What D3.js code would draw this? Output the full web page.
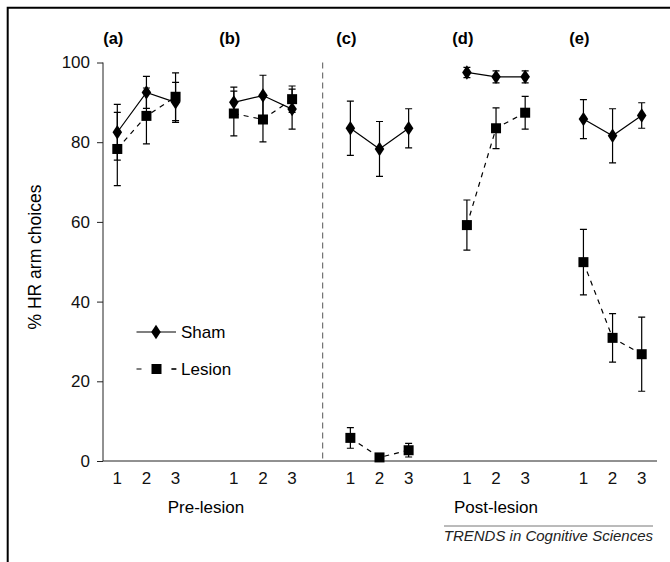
<!DOCTYPE html>
<html lang="en">
<head>
  <meta charset="utf-8">
  <script src="https://d3js.org/d3.v7.min.js"></script>
  <style>
    body { margin: 0; background: #fff; }
    svg { display: block; font-family: Arial, "Liberation Sans", sans-serif; }
    .tick text { font-size: 17px; fill: #111; }
  </style>
</head>
<body>
  <svg id="chart" width="670" height="562"></svg>
  <script>
    // panels and sessions
    var panels = ["(a)", "(b)", "(c)", "(d)", "(e)"];
    var sessions = [1, 2, 3];
    var yTicks = [0, 20, 40, 60, 80, 100];

    // means and error (+/-) per panel, session 1..3
    var shamMean = [
      [82.5, 92.5, 90.0],
      [90.0, 91.7, 88.3],
      [83.5, 78.3, 83.5],
      [97.5, 96.4, 96.4],
      [85.8, 81.6, 86.7]
    ];
    var shamErr = [
      [7.0, 4.0, 5.0],
      [3.8, 5.1, 5.0],
      [6.8, 6.9, 4.9],
      [1.3, 1.5, 1.5],
      [4.9, 6.8, 3.2]
    ];
    var lesionMean = [
      [78.3, 86.6, 91.4],
      [87.2, 85.7, 90.8],
      [5.8, 0.9, 2.7],
      [59.2, 83.5, 87.4],
      [49.9, 30.9, 26.8]
    ];
    var lesionErr = [
      [9.2, 7.0, 6.0],
      [5.6, 5.6, 3.3],
      [2.6, 0.6, 1.7],
      [6.3, 5.1, 4.1],
      [8.2, 6.1, 9.3]
    ];

    var svg = d3.select("#chart");

    // frame
    svg.append("path")
        .attr("d", "M7.7,562 V7.7 H670")
        .attr("fill", "none")
        .attr("stroke", "#000")
        .attr("stroke-width", 2);

    // x position index: panel p, session s -> 4*p + s
    var x = d3.scaleLinear().domain([1, 19]).range([117.3, 641.7]);
    var y = d3.scaleLinear().domain([0, 100]).range([461, 62.5]);
    function px(p, s) { return x(4 * p + s); }

    // y axis
    var yAxis = d3.axisLeft(y).tickValues(yTicks).tickSize(6).tickPadding(7);
    var gy = svg.append("g").attr("transform", "translate(103,0)").call(yAxis);
    gy.select(".domain").attr("stroke", "#222").attr("d", "M0," + y(100) + "V" + y(0));
    gy.selectAll(".tick line").attr("stroke", "#222");

    // x axis line
    svg.append("line")
        .attr("x1", 103).attr("x2", 657)
        .attr("y1", y(0)).attr("y2", y(0))
        .attr("stroke", "#222");

    // pre/post divider
    svg.append("line")
        .attr("x1", x(8.05)).attr("x2", x(8.05))
        .attr("y1", y(100)).attr("y2", y(0))
        .attr("stroke", "#555")
        .attr("stroke-dasharray", "6,4");

    // session labels
    panels.forEach(function(name, p) {
      sessions.forEach(function(s) {
        svg.append("text")
            .attr("x", px(p, s)).attr("y", 484)
            .attr("text-anchor", "middle")
            .attr("font-size", 17).attr("fill", "#111")
            .text(s);
      });
      svg.append("text")
          .attr("x", px(p, 1) - 4).attr("y", 44)
          .attr("text-anchor", "middle")
          .attr("font-size", 16.5).attr("font-weight", "bold")
          .text(name);
    });

    svg.append("text").attr("x", 206).attr("y", 513)
        .attr("text-anchor", "middle").attr("font-size", 17).text("Pre-lesion");
    svg.append("text").attr("x", 496).attr("y", 513)
        .attr("text-anchor", "middle").attr("font-size", 17).text("Post-lesion");

    svg.append("text")
        .attr("transform", "translate(41,257) rotate(-90)")
        .attr("text-anchor", "middle").attr("font-size", 17.5)
        .text("% HR arm choices");

    var diamond = d3.symbol().type(d3.symbolDiamond).size(60);

    function drawSeries(means, errs, dashed, marker) {
      means.forEach(function(row, p) {
        var pts = row.map(function(v, i) { return [px(p, i + 1), y(v), errs[p][i], v]; });
        svg.append("path")
            .attr("d", d3.line()(pts.map(function(d) { return [d[0], d[1]]; })))
            .attr("fill", "none")
            .attr("stroke", "#000")
            .attr("stroke-width", 1.2)
            .attr("stroke-dasharray", dashed ? "5,5" : null);
        pts.forEach(function(d) {
          var top = y(d[3] + d[2]), bot = y(d[3] - d[2]);
          svg.append("path")
              .attr("d", "M" + d[0] + "," + top + "V" + bot +
                         "M" + (d[0] - 3.5) + "," + top + "H" + (d[0] + 3.5) +
                         "M" + (d[0] - 3.5) + "," + bot + "H" + (d[0] + 3.5))
              .attr("stroke", "#000").attr("stroke-width", 1.2).attr("fill", "none");
          if (marker === "diamond") {
            svg.append("path")
                .attr("d", diamond())
                .attr("transform", "translate(" + d[0] + "," + d[1] + ") scale(1.15,1)")
                .attr("fill", "#000");
          } else {
            svg.append("rect")
                .attr("x", d[0] - 5).attr("y", d[1] - 5)
                .attr("width", 10).attr("height", 10)
                .attr("fill", "#000");
          }
        });
      });
    }

    drawSeries(lesionMean, lesionErr, true, "square");
    drawSeries(shamMean, shamErr, false, "diamond");

    // legend
    svg.append("line").attr("x1", 136.5).attr("x2", 176).attr("y1", 332).attr("y2", 332)
        .attr("stroke", "#000").attr("stroke-width", 1.2);
    svg.append("path").attr("d", diamond())
        .attr("transform", "translate(156,332) scale(1.15,1)").attr("fill", "#000");
    svg.append("text").attr("x", 181).attr("y", 338).attr("font-size", 17).text("Sham");

    svg.append("line").attr("x1", 136.5).attr("x2", 176).attr("y1", 369).attr("y2", 369)
        .attr("stroke", "#000").attr("stroke-width", 1.2).attr("stroke-dasharray", "5,30");
    svg.append("line").attr("x1", 171.5).attr("x2", 176.5).attr("y1", 369).attr("y2", 369)
        .attr("stroke", "#000").attr("stroke-width", 1.2);
    svg.append("rect").attr("x", 151.5).attr("y", 364).attr("width", 10).attr("height", 10)
        .attr("fill", "#000");
    svg.append("text").attr("x", 181).attr("y", 375).attr("font-size", 17).text("Lesion");

    // source line
    svg.append("line").attr("x1", 444).attr("x2", 653).attr("y1", 526).attr("y2", 526)
        .attr("stroke", "#777").attr("stroke-width", 1);
    svg.append("text").attr("x", 653).attr("y", 541)
        .attr("text-anchor", "end").attr("font-size", 15).attr("font-style", "italic")
        .attr("fill", "#222")
        .text("TRENDS in Cognitive Sciences");
  </script>
</body>
</html>
